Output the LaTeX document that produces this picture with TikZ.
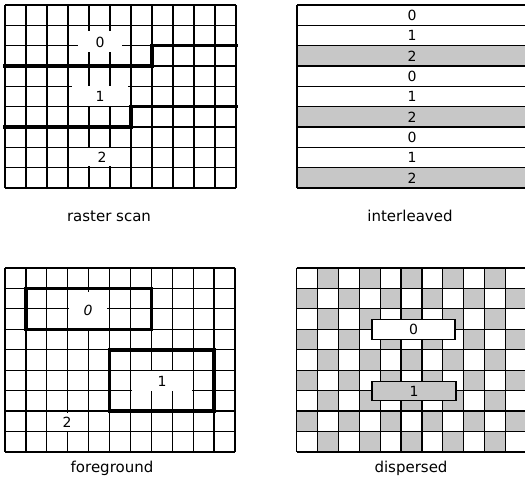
\documentclass[tikz,border=0pt]{standalone}
\usepackage{fontspec}
\setmainfont{DejaVu Sans}
\begin{document}
\begin{tikzpicture}[x=1pt,y=-1pt,line width=1.2pt,
  num/.style={inner sep=0pt,font=\fontsize{14}{14}\selectfont},
  cell/.style={num,fill=white},
  bound/.style={line width=3.5pt,line cap=rect},
  shade/.style={fill=black!22},
  caption/.style={font=\fontsize{15}{15}\selectfont}]
\useasboundingbox (0,0) rectangle (525,487);

\foreach \i in {0,...,11} \draw (5+21*\i,5) -- (5+21*\i,188);
\foreach \j in {0,...,9} \draw (5,5+20.33*\j) -- (236,5+20.33*\j);
\node[cell,minimum width=44,minimum height=21] (r0) at (100,42) {0};
\node[cell,minimum width=56,minimum height=20] (r1) at (100,96) {1};
\node[cell,minimum width=36,minimum height=18] (r2) at (102,157) {2};
\draw[bound] (5,66) -- (152,66) -- (152,45.67) -- (236,45.67);
\draw[bound] (5,127) -- (131,127) -- (131,106.67) -- (236,106.67);
\node[caption] (rastercap) at (109,216) {raster scan};

\foreach \j in {2,5,8} \fill[shade] (297,5+20.33*\j) rectangle (530,25.33+20.33*\j);
\foreach \j in {0,...,9} \draw (297,5+20.33*\j) -- (530,5+20.33*\j);
\draw (297,5) -- (297,188);
\foreach \j in {0,...,8}{
  \pgfmathtruncatemacro\k{mod(\j,3)}
  \node[num] (i\j) at (412,15.5+20.33*\j) {\k};
}
\node[caption] (intercap) at (410,216) {interleaved};

\foreach \i in {0,...,11} \draw (5+20.9*\i,268) -- (5+20.9*\i,452);
\foreach \j in {0,...,9} \draw (5,268+20.44*\j) -- (235,268+20.44*\j);
\node[cell,minimum width=38,minimum height=36] (f0) at (88,310) {\itshape 0};
\node[cell,minimum width=60,minimum height=20] (f1) at (162,381) {1};
\node[cell,minimum width=18,minimum height=18] (f2) at (67,422) {2};
\draw[bound] (25.9,288.44) rectangle (151.3,329.33);
\draw[bound] (109.5,349.78) rectangle (214,411.11);
\node[caption] (forecap) at (112,468) {foreground};

\foreach \j in {0,...,8}
  \foreach \i in {0,...,10}{
    \pgfmathtruncatemacro\p{mod(\i+\j,2)}
    \ifnum\p=1 \fill[shade] (296.5+20.9*\i,268+20.44*\j) rectangle +(20.9,20.44); \fi
  }
\foreach \i in {0,...,11} \draw (296.5+20.9*\i,268) -- (296.5+20.9*\i,452);
\foreach \j in {0,...,9} \draw (296.5,268+20.44*\j) -- (530,268+20.44*\j);
\node[num,draw,fill=white,minimum width=83,minimum height=20] (d0) at (413.5,329.5) {0};
\node[num,draw,shade,minimum width=84,minimum height=19] (d1) at (414,391) {1};
\node[caption] (dispcap) at (411,468) {dispersed};
\end{tikzpicture}
\end{document}
